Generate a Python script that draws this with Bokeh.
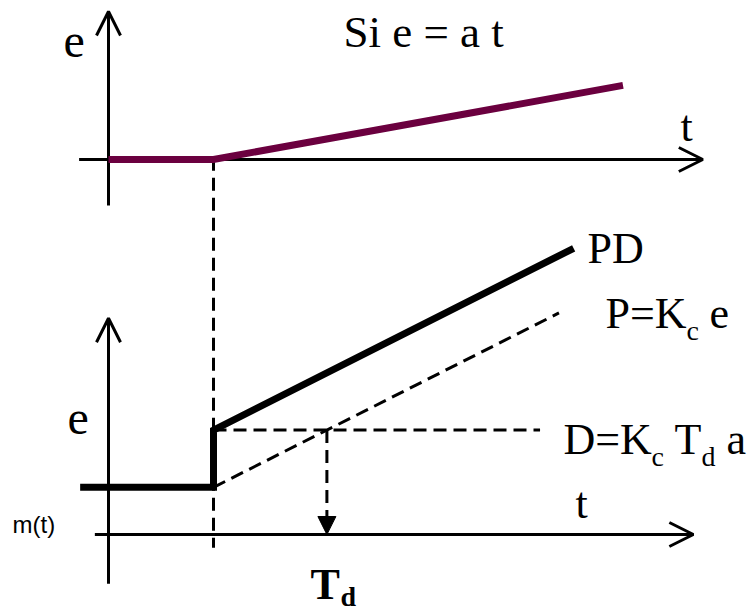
from bokeh.plotting import figure
from bokeh.models import Range1d, Arrow, OpenHead, NormalHead, Label
from bokeh.embed import file_html
from bokeh.resources import INLINE

# ---- data (time unit: step occurs at t = 1) ----
# top panel: error e = a t (ramp starting at step)
e_t = [0.0, 1.0, 4.9]
e_v = [0.0, 0.0, 3.9]
# bottom panel: controller output m(t)
pd_t = [-0.27, 1.0, 1.0, 4.43]
pd_m = [0.89, 0.89, 1.97, 5.40]
p_t = [1.0, 4.29]
p_m = [0.89, 4.18]
d_t = [1.0, 4.11]
d_m = [1.97, 1.97]
step_t = 1.0
td_t = 2.08
d_level = 1.97

# axes extents
top_axis_t = [-0.28, 5.66]
top_axis_e = [-2.42, 7.79]
bot_axis_t = [-0.13, 5.57]
bot_axis_m = [-0.93, 4.08]
step_line_m = [7.11, -0.25]

SERIF = "Liberation Serif"
PURPLE = "#6B003F"
DASH = "13 7"

p = figure(width=751, height=615,
           x_range=Range1d(-108 / 105, 643 / 105),
           y_range=Range1d(-81 / 53, 534 / 53),
           x_axis_type=None, y_axis_type=None,
           output_backend="svg", toolbar_location=None, min_border=0)
p.extra_y_ranges = {"top": Range1d(-456 / 19, 159 / 19)}
p.grid.visible = False
p.outline_line_color = None

# ---- axes with open arrow heads ----
def axis_arrow(x0, y0, x1, y1, rng="default"):
    a = Arrow(end=OpenHead(size=24, line_width=3, line_color="black"),
              x_start=x0, y_start=y0, x_end=x1, y_end=y1,
              line_width=3, line_color="black", y_range_name=rng, level="underlay")
    p.add_layout(a)

axis_arrow(top_axis_t[0], 0, top_axis_t[1], 0, "top")
axis_arrow(0, top_axis_e[0], 0, top_axis_e[1], "top")
axis_arrow(bot_axis_t[0], 0, bot_axis_t[1], 0)
axis_arrow(0, bot_axis_m[0], 0, bot_axis_m[1])

# ---- dashed lines ----
p.line([step_t, step_t], step_line_m, line_color="black", line_width=3, line_dash=DASH)
p.line(p_t, p_m, line_color="black", line_width=3, line_dash=DASH)
p.line(d_t, d_m, line_color="black", line_width=3, line_dash=DASH)
p.add_layout(Arrow(end=NormalHead(size=18, fill_color="black", line_color="black", line_width=1),
                   x_start=td_t, y_start=d_level, x_end=td_t, y_end=0,
                   line_width=3, line_color="black", line_dash=DASH))

# ---- main curves ----
p.line(e_t, e_v, y_range_name="top", line_color=PURPLE, line_width=7,
       line_join="miter", line_cap="butt")
p.line(pd_t, pd_m, line_color="black", line_width=7, line_join="miter", line_cap="butt")

# ---- texts ----
def lab(x, y, txt, size=44, rng="default", dx=0, dy=0, font=SERIF, style="normal"):
    lift = round(0.32 * size)
    p.add_layout(Label(x=x, y=y, text=txt, x_offset=dx, y_offset=dy + lift,
                       text_font=font, text_font_size=f"{size}px", text_font_style=style,
                       text_color="black", text_baseline="alphabetic", text_align="left",
                       y_range_name=rng))

lab(2.238, 6.0, "Si e = a t", 45, "top")
lab(-0.429, 5.47, "e", 48, "top")
lab(5.448, 1.0, "t", 44, "top")

lab(4.562, 5.13, "PD", 44)
lab(4.733, 3.906, "P=K", 44)
lab(4.733, 3.906, "c", 28, dx=81, dy=-12)
lab(4.733, 3.906, "e", 44, dx=104)

lab(4.333, 1.528, "D=K", 44)
lab(4.333, 1.528, "c", 28, dx=88, dy=-12)
lab(4.333, 1.528, "T", 44, dx=111)
lab(4.333, 1.528, "d", 28, dx=138, dy=-12)
lab(4.333, 1.528, "a", 44, dx=163)

lab(-0.39, 1.906, "e", 48)
lab(4.448, 0.32, "t", 44)
lab(-0.914, 0.038, "m(t)", 24, font="Liberation Sans")

lab(1.924, -1.245, "T", 44, dy=2, style="bold")
lab(1.924, -1.245, "d", 28, dx=30, dy=-5, style="bold")

open("out.html", "w").write(file_html(p, INLINE))
